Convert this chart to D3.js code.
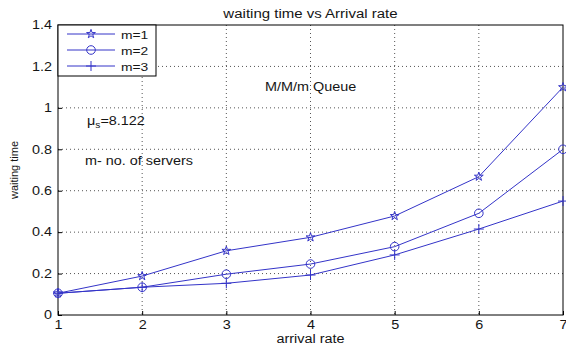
<!DOCTYPE html>
<html>
<head>
<meta charset="utf-8">
<script src="https://cdn.jsdelivr.net/npm/d3@7"></script>
<style>
  body { margin: 0; background: #fff; }
  svg { display: block; font-family: "Liberation Sans", Arial, sans-serif; }
</style>
</head>
<body>
<div id="chart"></div>
<script>
// arrival rates on x axis
const arrivalRate = [1, 2, 3, 4, 5, 6, 7];
// waiting time for each number of servers
const m1 = [0.105, 0.188, 0.31, 0.375, 0.478, 0.668, 1.10];
const m2 = [0.105, 0.134, 0.197, 0.246, 0.33, 0.491, 0.80];
const m3 = [0.105, 0.134, 0.153, 0.193, 0.29, 0.415, 0.55];
const seriesNames = ['m=1', 'm=2', 'm=3'];
const markers = ['star', 'circle', 'plus'];
const yTicks = [0, 0.2, 0.4, 0.6, 0.8, 1, 1.2, 1.4];

const width = 566, height = 347;
const margin = { top: 25, right: 3, bottom: 32, left: 58 };
const innerW = width - margin.left - margin.right;
const innerH = height - margin.top - margin.bottom;
const lineColor = '#3434c8';
const textColor = '#151515';
// the picture is a bit wider than tall, text is stretched the same way
const stretchX = 1.2;

const svg = d3.select('#chart').append('svg')
  .attr('width', width)
  .attr('height', height);

const g = svg.append('g')
  .attr('transform', 'translate(' + margin.left + ',' + margin.top + ')');

const x = d3.scaleLinear().domain([1, 7]).range([0, innerW]);
const y = d3.scaleLinear().domain([0, 1.4]).range([innerH, 0]);

function stretch(sel) {
  sel.each(function () {
    const len = this.getComputedTextLength();
    d3.select(this).attr('textLength', len * stretchX).attr('lengthAdjust', 'spacingAndGlyphs');
  });
}

// dotted grid
g.append('g').selectAll('line')
  .data(arrivalRate.slice(1, -1))
  .enter().append('line')
  .attr('x1', d => x(d)).attr('x2', d => x(d))
  .attr('y1', 0).attr('y2', innerH)
  .attr('stroke', '#555').attr('stroke-width', 1)
  .attr('stroke-dasharray', '1,3');

g.append('g').selectAll('line')
  .data(yTicks.slice(1, -1))
  .enter().append('line')
  .attr('y1', d => y(d)).attr('y2', d => y(d))
  .attr('x1', 0).attr('x2', innerW)
  .attr('stroke', '#555').attr('stroke-width', 1)
  .attr('stroke-dasharray', '1,3');

// axes, ticks pointing inward
const xAxis = g.append('g')
  .attr('transform', 'translate(0,' + innerH + ')')
  .call(d3.axisBottom(x).tickValues(arrivalRate).tickSize(-4).tickPadding(5).tickFormat(d3.format('d')));
const yAxis = g.append('g')
  .call(d3.axisLeft(y).tickValues(yTicks).tickSize(-4).tickPadding(6).tickFormat(d => d3.format('~g')(d)));
[xAxis, yAxis].forEach(a => {
  a.attr('font-family', null).attr('font-size', null);
  a.selectAll('text').attr('font-size', '12px').attr('fill', textColor);
  a.select('.domain').remove();
  stretch(a.selectAll('text'));
});

g.append('rect')
  .attr('width', innerW).attr('height', innerH)
  .attr('fill', 'none').attr('stroke', '#000').attr('stroke-width', 1);

// series
const series = [m1, m2, m3];
const line = d3.line().x((d, i) => x(arrivalRate[i])).y(d => y(d));

function drawMarker(sel, type, cx, cy) {
  if (type === 'circle') {
    sel.append('circle').attr('cx', cx).attr('cy', cy).attr('r', 4.3)
      .attr('fill', 'none').attr('stroke', lineColor);
  } else if (type === 'plus') {
    sel.append('path')
      .attr('d', 'M' + (cx - 5) + ',' + cy + 'H' + (cx + 5) + 'M' + cx + ',' + (cy - 5) + 'V' + (cy + 5))
      .attr('stroke', lineColor).attr('fill', 'none');
  } else {
    sel.append('path')
      .attr('d', d3.symbol().type(d3.symbolStar).size(24)())
      .attr('transform', 'translate(' + cx + ',' + cy + ')')
      .attr('fill', 'none').attr('stroke', lineColor);
  }
}

series.forEach((vals, k) => {
  g.append('path').datum(vals)
    .attr('d', line)
    .attr('fill', 'none').attr('stroke', lineColor).attr('stroke-width', 1);
  const mg = g.append('g');
  vals.forEach((v, i) => drawMarker(mg, markers[k], x(arrivalRate[i]), y(v)));
});

// legend
const legend = g.append('g');
legend.append('rect')
  .attr('x', 0).attr('y', 0).attr('width', 98).attr('height', 51)
  .attr('fill', '#fff').attr('stroke', '#000');
seriesNames.forEach((name, k) => {
  const ly = 9 + k * 16;
  legend.append('line').attr('x1', 9).attr('x2', 57).attr('y1', ly).attr('y2', ly)
    .attr('stroke', lineColor);
  drawMarker(legend, markers[k], 33, ly);
  legend.append('text').attr('x', 63).attr('y', ly + 4.5)
    .attr('font-size', '11.5px').attr('fill', textColor).text(name);
});
stretch(legend.selectAll('text'));

// annotations
const notes = g.append('g').attr('font-size', '12px').attr('fill', textColor);
notes.append('text').attr('x', x(3.46)).attr('y', y(1.082)).text('M/M/m Queue');
notes.append('text').attr('x', x(1.32)).attr('y', y(0.724)).text('m- no. of servers');
stretch(notes.selectAll('text'));
const mu = notes.append('text')
  .attr('transform', 'translate(' + x(1.345) + ',' + y(0.917) + ') scale(' + stretchX + ',1)');
mu.append('tspan').text('\u03bc');
mu.append('tspan').attr('font-size', '8.5px').attr('dy', 3).text('s');
mu.append('tspan').attr('dy', -3).text('=8.122');

// title and axis labels
const title = svg.append('text').attr('x', margin.left + innerW / 2).attr('y', 18)
  .attr('text-anchor', 'middle').attr('font-size', '12.5px').attr('fill', textColor)
  .text('waiting time vs Arrival rate');
const xLabel = svg.append('text').attr('x', margin.left + innerW / 2).attr('y', 343)
  .attr('text-anchor', 'middle').attr('font-size', '12px').attr('fill', textColor)
  .text('arrival rate');
stretch(title);
stretch(xLabel);
svg.append('text')
  .attr('transform', 'translate(18,' + (margin.top + innerH / 2) + ') rotate(-90)')
  .attr('text-anchor', 'middle').attr('font-size', '11px').attr('fill', textColor)
  .text('waiting time');
</script>
</body>
</html>
